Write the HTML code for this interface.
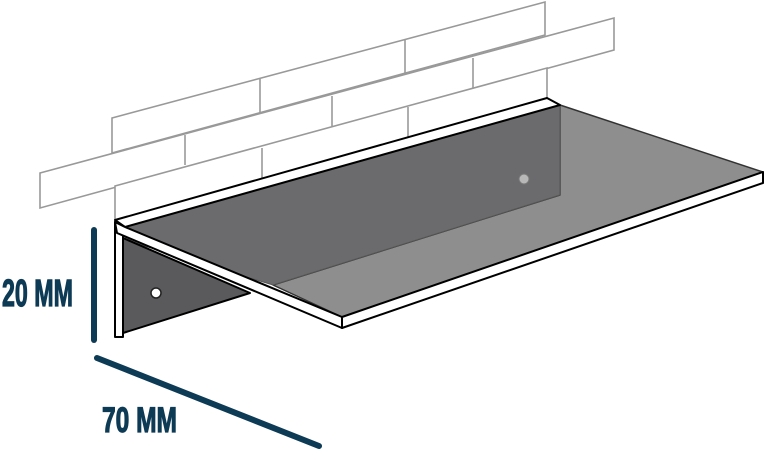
<!DOCTYPE html>
<html><head><meta charset="utf-8"><style>
html,body{margin:0;padding:0;background:#fff;}
svg{display:block;}
</style></head><body>
<svg width="768" height="454" viewBox="0 0 768 454" xmlns="http://www.w3.org/2000/svg">
<rect width="768" height="454" fill="#fff"/>
<g fill="#fff" stroke="#999" stroke-width="1.6" stroke-linejoin="miter">
<polygon points="112,118 545,2 545,35 112,153"/>
<polygon points="40,173 614,18 614,50 40,208"/>
<polygon points="115,186 547,68 547,110 115,228"/>
<line x1="260" y1="79" x2="260" y2="113"/>
<line x1="405" y1="39" x2="405" y2="74"/>
<line x1="185" y1="135" x2="185" y2="165"/>
<line x1="332" y1="96" x2="332" y2="126"/>
<line x1="473" y1="58" x2="473" y2="88"/>
<line x1="262" y1="148" x2="262" y2="178"/>
<line x1="408" y1="107" x2="408" y2="137"/>
</g>
<polygon points="273,285 560,195 560,105 763,172 342,317" fill="#8e8e8f" stroke="#333" stroke-width="1.5" stroke-linejoin="round"/>
<polygon points="125,227 560,105 560,195 273,285 125,240" fill="#6b6b6d" stroke="#555" stroke-width="1"/>
<circle cx="524" cy="179" r="5" fill="#b8b8b8" stroke="#777" stroke-width="1"/>
<polygon points="123,238 250,293 123,333" fill="#5a5a5c" stroke="#000" stroke-width="2" stroke-linejoin="round"/>
<circle cx="156" cy="293" r="5" fill="#fff" stroke="#222" stroke-width="1.5"/>
<polygon points="115,220 547,98 560,105 125,227" fill="#fff" stroke="#000" stroke-width="2" stroke-linejoin="round"/>
<polygon points="115,222 123,228 123,337 115,337" fill="#fff" stroke="#000" stroke-width="2" stroke-linejoin="round"/>
<polygon points="115,222 125,227 342,317 342,328 117,233" fill="#fff" stroke="#000" stroke-width="2" stroke-linejoin="round"/>
<polygon points="342,317 763,172 763,183 342,328" fill="#fff" stroke="#000" stroke-width="2" stroke-linejoin="round"/>
<line x1="94" y1="230" x2="94" y2="340" stroke="#0d3a55" stroke-width="6" stroke-linecap="round"/>
<line x1="97" y1="358" x2="319" y2="446" stroke="#0d3a55" stroke-width="6" stroke-linecap="round"/>
<text x="2" y="306" font-family="'Liberation Sans Narrow','Liberation Sans',sans-serif" font-weight="bold" font-size="38" fill="#0d3a55" stroke="#0d3a55" stroke-width="1.2" textLength="71" lengthAdjust="spacingAndGlyphs">20 MM</text>
<text x="102" y="432" font-family="'Liberation Sans Narrow','Liberation Sans',sans-serif" font-weight="bold" font-size="35" fill="#0d3a55" stroke="#0d3a55" stroke-width="1.2" textLength="75" lengthAdjust="spacingAndGlyphs">70 MM</text>
</svg>
</body></html>
